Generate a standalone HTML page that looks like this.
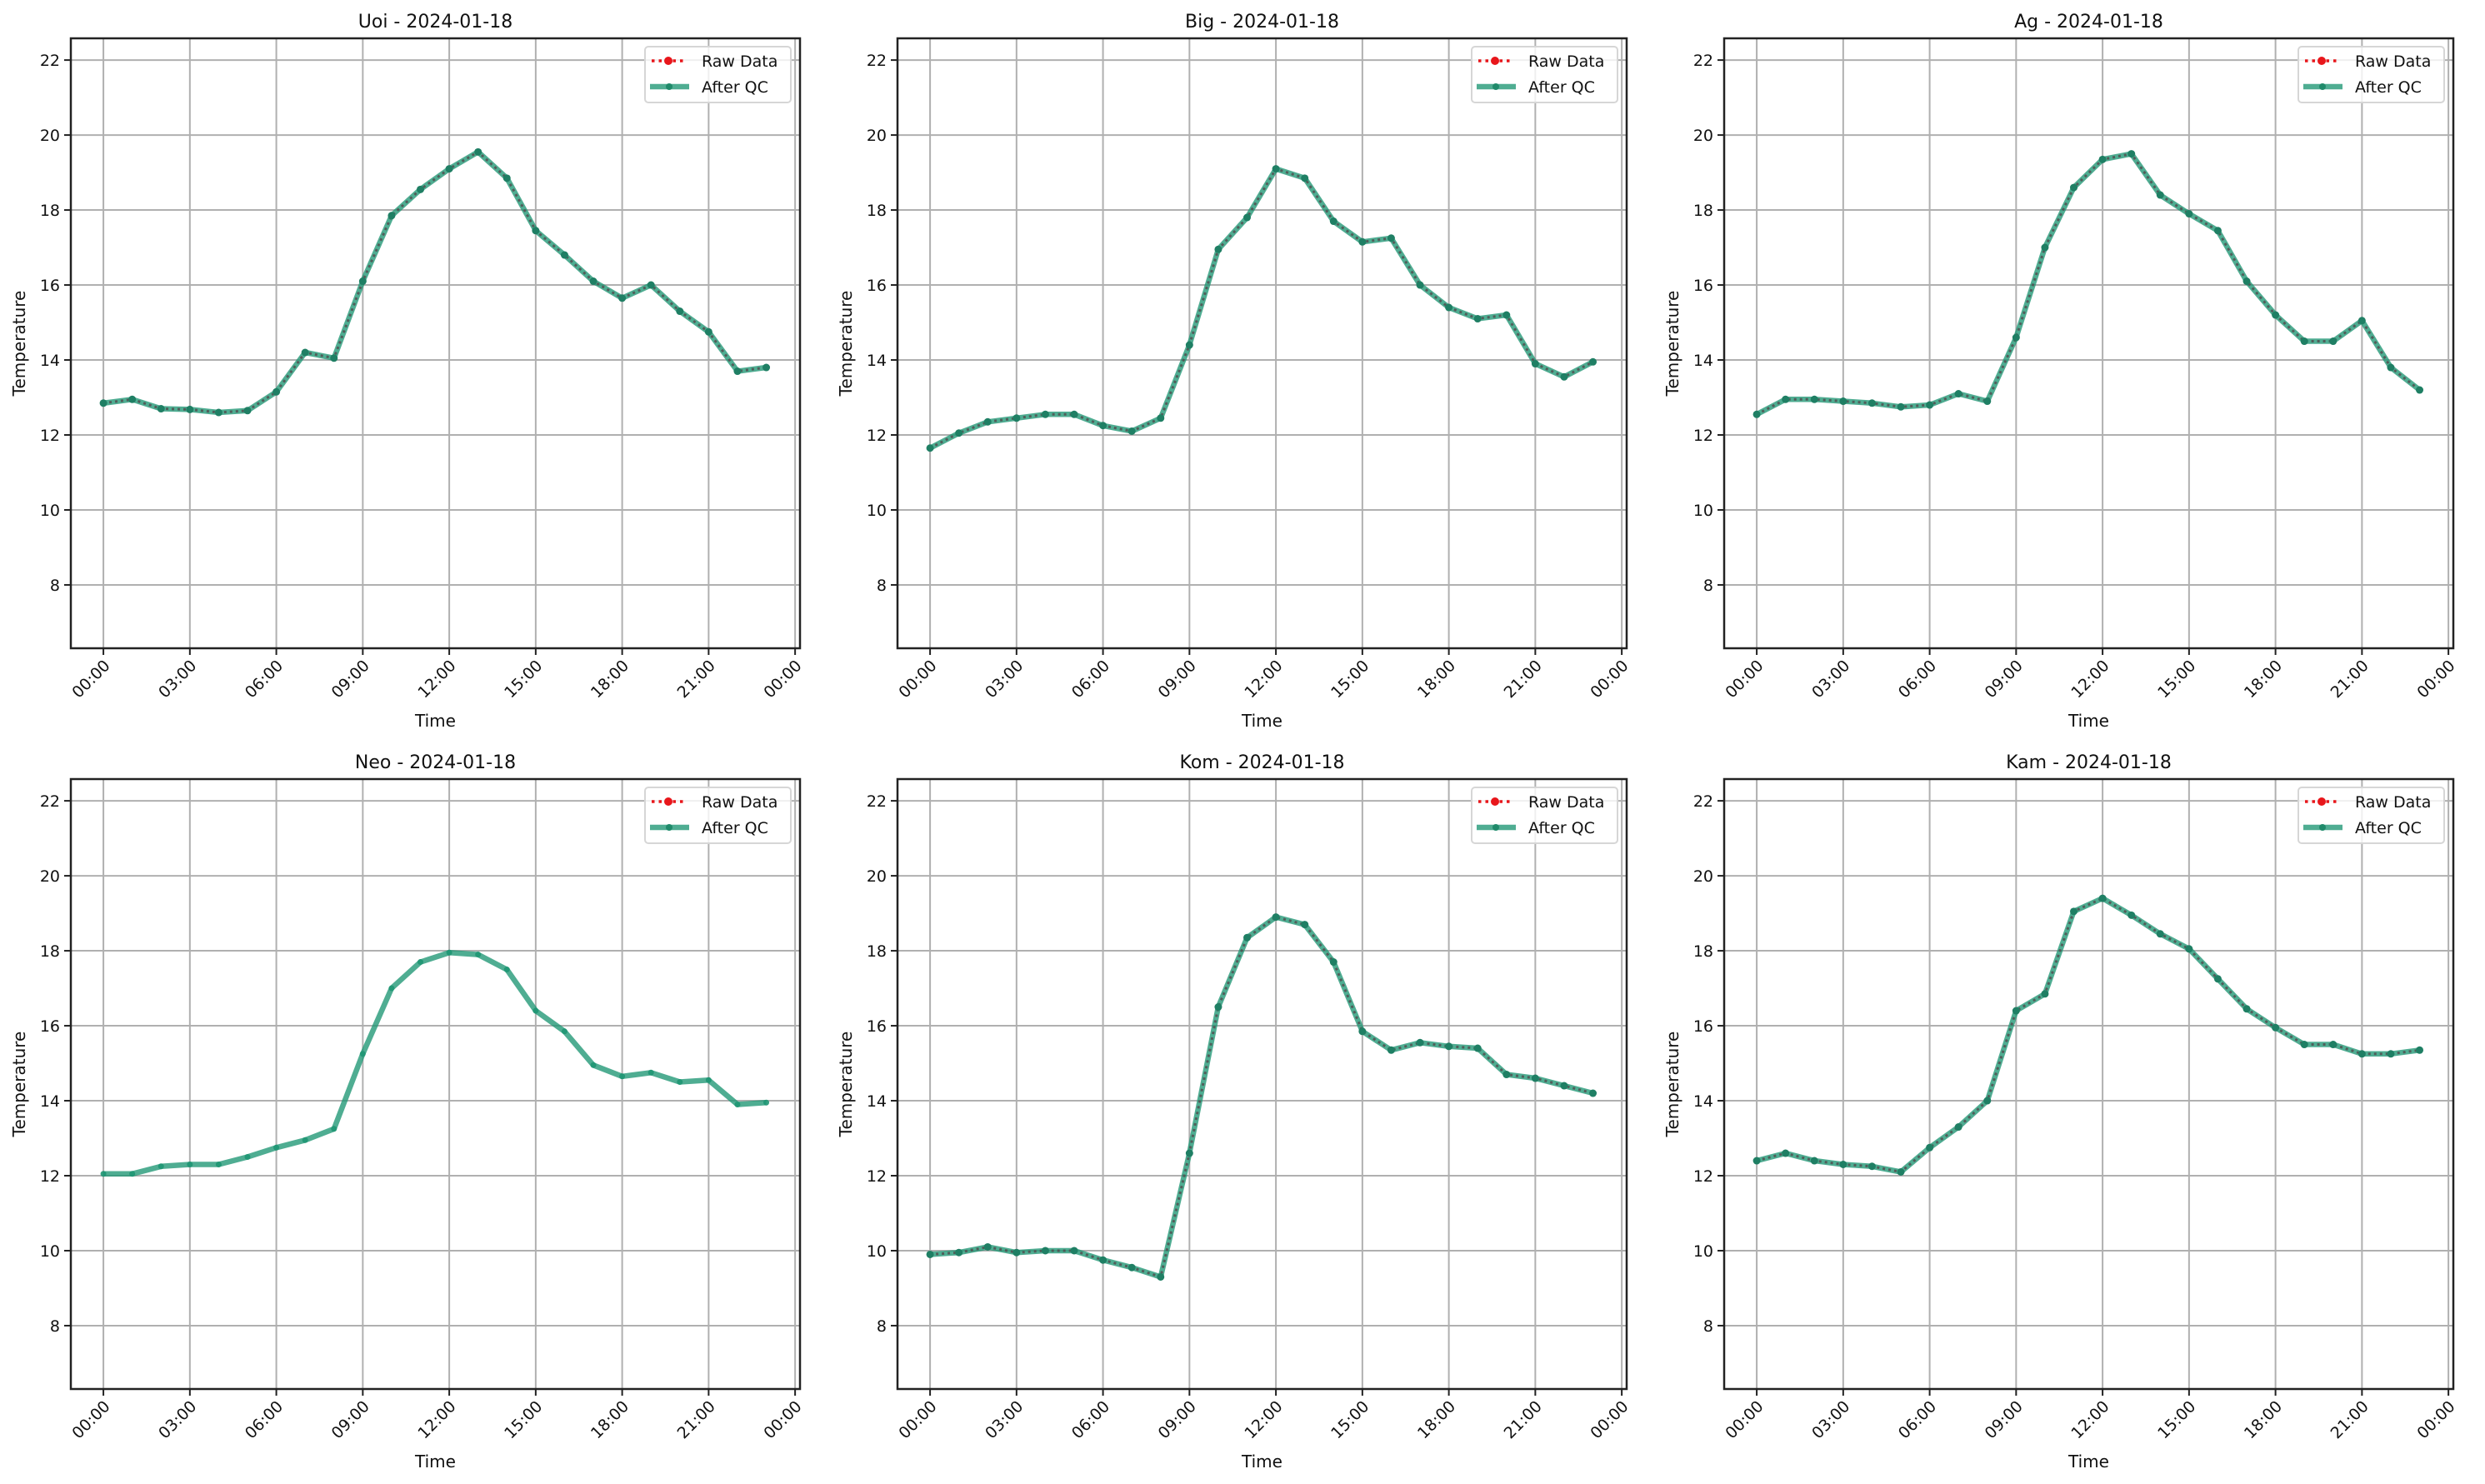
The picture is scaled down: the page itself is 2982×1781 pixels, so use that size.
<!DOCTYPE html>
<html><head><meta charset="utf-8"><style>
html,body{margin:0;padding:0;background:#fff}
svg{display:block;font-family:"DejaVu Sans","Liberation Sans",sans-serif}
</style></head><body>
<svg id="chart" width="2982" height="1781" viewBox="0 0 2982 1781" xmlns="http://www.w3.org/2000/svg"></svg>
<script>
const stations = ["Uoi","Big","Ag","Neo","Kom","Kam"];
const dateLabel = "2024-01-18";
const hours = [0,1,2,3,4,5,6,7,8,9,10,11,12,13,14,15,16,17,18,19,20,21,22,23];
const uoiTemps = [12.85,12.95,12.7,12.68,12.6,12.65,13.15,14.2,14.05,16.1,17.85,18.55,19.1,19.55,18.85,17.45,16.8,16.1,15.65,16.0,15.3,14.75,13.7,13.8];
const bigTemps = [11.65,12.05,12.35,12.45,12.55,12.55,12.25,12.1,12.45,14.4,16.95,17.8,19.1,18.85,17.7,17.15,17.25,16.0,15.4,15.1,15.2,13.9,13.55,13.95];
const agTemps = [12.55,12.95,12.95,12.9,12.85,12.75,12.8,13.1,12.9,14.6,17.0,18.6,19.35,19.5,18.4,17.9,17.45,16.1,15.2,14.5,14.5,15.05,13.8,13.2];
const neoTemps = [12.05,12.05,12.25,12.3,12.3,12.5,12.75,12.95,13.25,15.25,17.0,17.7,17.95,17.9,17.5,16.4,15.85,14.95,14.65,14.75,14.5,14.55,13.9,13.95];
const komTemps = [9.9,9.95,10.1,9.95,10.0,10.0,9.75,9.55,9.3,12.6,16.5,18.35,18.9,18.7,17.7,15.85,15.35,15.55,15.45,15.4,14.7,14.6,14.4,14.2];
const kamTemps = [12.4,12.6,12.4,12.3,12.25,12.1,12.75,13.3,14.0,16.4,16.85,19.05,19.4,18.95,18.45,18.05,17.25,16.45,15.95,15.5,15.5,15.25,15.25,15.35];
const showRaw = [true,true,true,false,true,true];
const yTicks = [8,10,12,14,16,18,20,22];
const xTickHours = [0,3,6,9,12,15,18,21,24];
const xTickLabels = ["00:00","03:00","06:00","09:00","12:00","15:00","18:00","21:00","00:00"];

const allTemps = [uoiTemps,bigTemps,agTemps,neoTemps,komTemps,kamTemps];
const svg = document.getElementById('chart');
const NS = "http://www.w3.org/2000/svg";
function mk(tag, attrs, parent){ const e=document.createElementNS(NS,tag); for(const k in attrs) e.setAttribute(k,attrs[k]); parent.appendChild(e); return e; }

const W=875, H=732, Y0=6.31, Y1=22.58, X0=-1.13, X1=24.17;
stations.forEach((st,i)=>{
  const col=i%3, row=Math.floor(i/3);
  const L=85+col*992, T=46+row*889;
  const xs=h=>L+(h-X0)/(X1-X0)*W;
  const ys=v=>T+H-(v-Y0)/(Y1-Y0)*H;
  const g=mk('g',{},svg);
  
  
  xTickHours.forEach(h=>{const ln=mk('line',{x1:xs(h),x2:xs(h),y1:T,y2:T+H,stroke:'#b0b0b0','stroke-width':2},g);
     });
  yTicks.forEach(v=>{const ln=mk('line',{x1:L,x2:L+W,y1:ys(v),y2:ys(v),stroke:'#b0b0b0','stroke-width':2},g);
     });
  const data=allTemps[i];
  const pts=hours.map((h,k)=>xs(h).toFixed(1)+','+ys(data[k]).toFixed(1)).join(' ');
  const qc=mk('polyline',{points:pts,fill:'none',stroke:'rgba(30,150,115,0.78)','stroke-width':6.5,'stroke-linejoin':'round'},g);
   
  if(showRaw[i]){
    const raw=mk('polyline',{points:pts,fill:'none',stroke:'rgba(80,80,80,0.85)','stroke-width':3,'stroke-dasharray':'3 4'},g);
     
  }
  hours.forEach((h,k)=>{const c=mk('circle',{cx:xs(h),cy:ys(data[k]),r:showRaw[i]?4.5:3.5,fill:showRaw[i]?'#1f7f64':'rgba(30,150,115,0.9)'},g);
     });
  const fr=mk('rect',{x:L,y:T,width:W,height:H,fill:'none',stroke:'#222','stroke-width':2.5},g);
   
  yTicks.forEach(v=>{mk('line',{x1:L-8,x2:L,y1:ys(v),y2:ys(v),stroke:'#222','stroke-width':2},g);
    const t=mk('text',{x:L-13,y:ys(v)+7,'text-anchor':'end','font-size':19,fill:'#111'},g); t.textContent=v;
     });
  xTickHours.forEach((h,k)=>{mk('line',{x1:xs(h),x2:xs(h),y1:T+H,y2:T+H+8,stroke:'#222','stroke-width':2},g);
    const x=xs(h)+9, y=T+H+22;
    const t=mk('text',{x:x,y:y,'text-anchor':'end','font-size':19,fill:'#111',transform:`rotate(-45 ${x} ${y})`},g);
    t.textContent=xTickLabels[k];
     });
  const ttl=mk('text',{x:L+W/2,y:T-13,'text-anchor':'middle','font-size':22,fill:'#111'},g);
  ttl.textContent=st+' - '+dateLabel;
   
  const xl=mk('text',{x:L+W/2,y:T+H+94,'text-anchor':'middle','font-size':20,fill:'#111'},g);
  xl.textContent='Time';
   
  const yx=L-55, yy=T+H/2;
  const yl=mk('text',{x:yx,y:yy,'text-anchor':'middle','font-size':20,fill:'#111',transform:`rotate(-90 ${yx} ${yy})`},g);
  yl.textContent='Temperature';
   
  const lg=mk('g',{},g);
   
  const lx=L+W-186, ly=T+10;
  mk('rect',{x:lx,y:ly,width:175,height:67,rx:4,fill:'rgba(255,255,255,0.8)',stroke:'#d6d6d6','stroke-width':2},lg);
  mk('line',{x1:lx+8,x2:lx+47,y1:ly+17,y2:ly+17,stroke:'#e8161b','stroke-width':3.5,'stroke-dasharray':'3.5 5'},lg);
  mk('circle',{cx:lx+28,cy:ly+17,r:5,fill:'#e8161b'},lg);
  const t1=mk('text',{x:lx+68,y:ly+24,'font-size':19,fill:'#111'},lg); t1.textContent='Raw Data';
   
  mk('line',{x1:lx+6,x2:lx+53,y1:ly+48,y2:ly+48,stroke:'rgba(30,150,115,0.78)','stroke-width':6.5},lg);
  mk('circle',{cx:lx+29,cy:ly+48,r:4,fill:'#1f8a6a'},lg);
  const t2=mk('text',{x:lx+68,y:ly+55,'font-size':19,fill:'#111'},lg); t2.textContent='After QC';
   
});
</script>
</body></html>
